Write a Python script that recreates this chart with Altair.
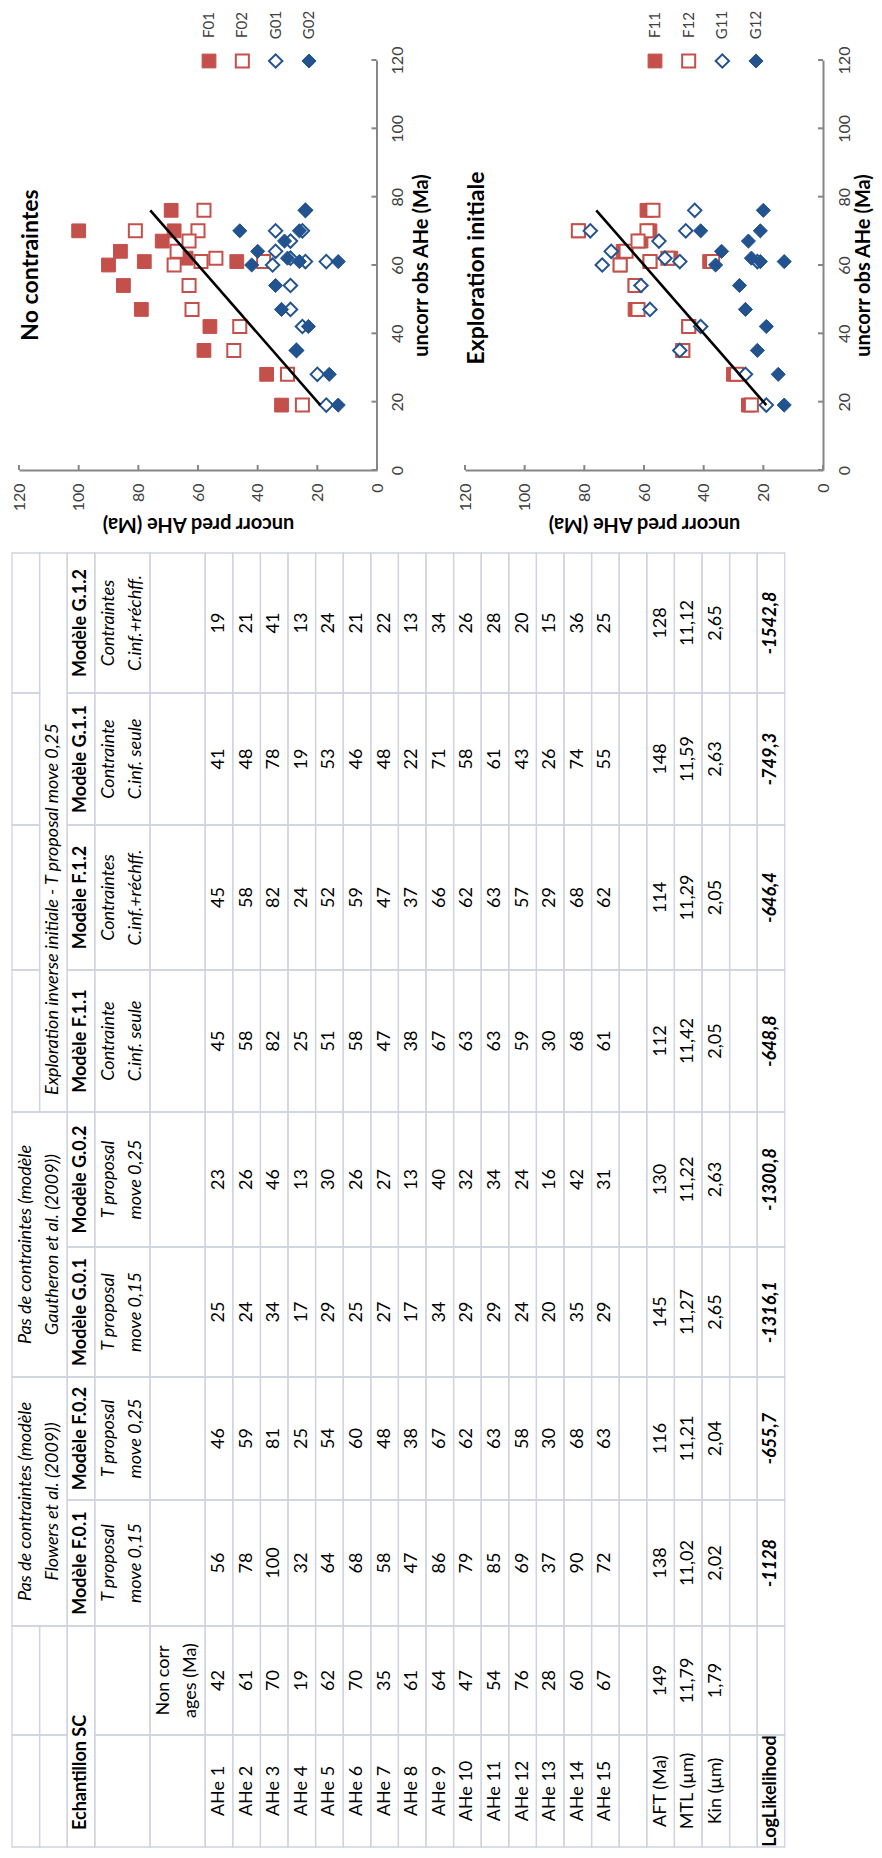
import altair as alt
import pandas as pd

FONT = "Lato"
RED = "#C4504C"
BLUE = "#22538F"
AXIS_GREY = "#868686"
GRID = "#D0D3E0"

# ---------------- data ----------------
samples = [f"AHe {i}" for i in range(1, 16)]
obs_ages = [42, 61, 70, 19, 62, 70, 35, 61, 64, 47, 54, 76, 28, 60, 67]
pred_F01 = [56, 78, 100, 32, 64, 68, 58, 47, 86, 79, 85, 69, 37, 90, 72]
pred_F02 = [46, 59, 81, 25, 54, 60, 48, 38, 67, 62, 63, 58, 30, 68, 63]
pred_G01 = [25, 24, 34, 17, 29, 25, 27, 17, 34, 29, 29, 24, 20, 35, 29]
pred_G02 = [23, 26, 46, 13, 30, 26, 27, 13, 40, 32, 34, 24, 16, 42, 31]
pred_F11 = [45, 58, 82, 25, 51, 58, 47, 38, 67, 63, 63, 59, 30, 68, 61]
pred_F12 = [45, 58, 82, 24, 52, 59, 47, 37, 66, 62, 63, 57, 29, 68, 62]
pred_G11 = [41, 48, 78, 19, 53, 46, 48, 22, 71, 58, 61, 43, 26, 74, 55]
pred_G12 = [19, 21, 41, 13, 24, 21, 22, 13, 34, 26, 28, 20, 15, 36, 25]
pred_cols = [pred_F01, pred_F02, pred_G01, pred_G02, pred_F11, pred_F12, pred_G11, pred_G12]

model_names = ["Modèle F.0.1", "Modèle F.0.2", "Modèle G.0.1", "Modèle G.0.2",
               "Modèle F.1.1", "Modèle F.1.2", "Modèle G.1.1", "Modèle G.1.2"]
model_line1 = ["T proposal", "T proposal", "T proposal", "T proposal",
               "Contrainte", "Contraintes", "Contrainte", "Contraintes"]
model_line2 = ["move 0,15", "move 0,25", "move 0,15", "move 0,25",
               "C.inf. seule", "C.inf.+réchff.", "C.inf. seule", "C.inf.+réchff."]
group_headers = [("Pas de contraintes (modèle", "Flowers et al. (2009))"),
                 ("Pas de contraintes (modèle", "Gautheron et al. (2009))")]
explo_header = "Exploration inverse initiale - T proposal move 0,25"
extra_rows = ["AFT (Ma)", "MTL (µm)", "Kin (µm)"]
aft_values = ["149", "138", "116", "145", "130", "112", "114", "148", "128"]
mtl_values = ["11,79", "11,02", "11,21", "11,27", "11,22", "11,42", "11,29", "11,59", "11,12"]
kin_values = ["1,79", "2,02", "2,04", "2,65", "2,63", "2,05", "2,05", "2,63", "2,65"]
loglik_values = ["-1128", "-655,7", "-1316,1", "-1300,8", "-648,8", "-646,4", "-749,3", "-1542,8"]

col_widths = [112, 109, 126, 123, 130, 135, 142, 145, 132, 140]
row_heights = [1, 1, 1, 2, 2] + [1] * 21

axis_ticks = [0, 20, 40, 60, 80, 100, 120]
panel1_series = ["F01", "F02", "G01", "G02"]
panel2_series = ["F11", "F12", "G11", "G12"]
series_kinds = ["sq_fill", "sq_open", "dia_open", "dia_fill"]
chart_titles = ["No contraintes", "Exploration initiale"]

# ---------------- canvas ----------------
W, H = 866, 1842

# ---------------- table ----------------
col_edges = [0]
for w in col_widths:
    col_edges.append(col_edges[-1] + w)
row_edges = [0]
for h in row_heights:
    row_edges.append(row_edges[-1] + h)


def rc(r):
    return (row_edges[r] + row_edges[r + 1]) / 2


def cc(c):
    return (col_edges[c] + col_edges[c + 1]) / 2


rects = []


def add_rect(r0, r1, c0, c1):
    rects.append(dict(x0=row_edges[r0], x1=row_edges[r1 + 1],
                      y0=col_edges[c0], y1=col_edges[c1 + 1]))


for c in (0, 1):
    add_rect(0, 0, c, c)
    add_rect(1, 1, c, c)
add_rect(0, 1, 2, 3)
add_rect(0, 1, 4, 5)
for c in range(6, 10):
    add_rect(0, 0, c, c)
add_rect(1, 1, 6, 9)
add_rect(2, 2, 0, 1)
for c in range(2, 10):
    add_rect(2, 2, c, c)
for r in range(3, len(row_heights)):
    for c in range(10):
        add_rect(r, r, c, c)

texts = []


def add_text(x, y, t, style):
    texts.append(dict(x=x, y=y, t=t, style=style))


for g, (l1, l2) in enumerate(group_headers):
    c0 = 2 + 2 * g
    yc = (col_edges[c0] + col_edges[c0 + 2]) / 2
    add_text(rc(0), yc, l1, "ital")
    add_text(rc(1), yc, l2, "ital")
add_text(rc(1), col_edges[6] + 17, explo_header, "ital_left")
add_text(rc(2), col_edges[0] + 17, "Echantillon SC", "bold_left")
for i, m in enumerate(model_names):
    add_text(rc(2), cc(i + 2), m, "bold")
    add_text(row_edges[3] + 0.5, cc(i + 2), model_line1[i], "ital")
    add_text(row_edges[3] + 1.5, cc(i + 2), model_line2[i], "ital")
add_text(row_edges[4] + 0.5, cc(1), "Non corr", "reg")
add_text(row_edges[4] + 1.5, cc(1), "ages (Ma)", "reg")
for k, s in enumerate(samples):
    r = 5 + k
    add_text(rc(r), cc(0), s, "reg")
    add_text(rc(r), cc(1), str(obs_ages[k]), "reg")
    for i, col in enumerate(pred_cols):
        add_text(rc(r), cc(i + 2), str(col[k]), "reg")
for j, (name, vals) in enumerate(zip(extra_rows, [aft_values, mtl_values, kin_values])):
    r = 21 + j
    add_text(rc(r), cc(0), name, "reg")
    for c, v in enumerate(vals):
        add_text(rc(r), cc(c + 1), v, "reg")
add_text(rc(25), cc(0), "LogLikelihood", "bold")
for i, v in enumerate(loglik_values):
    add_text(rc(25), cc(i + 2), v, "boldital")

rect_df = pd.DataFrame(rects)
text_df = pd.DataFrame(texts)

tx = alt.Scale(domain=[0, row_edges[-1]], range=[4, 776.8], nice=False, zero=False)
ty = alt.Scale(domain=[0, col_edges[-1]], range=[1839, 545], nice=False, zero=False)

rect_layer = alt.Chart(rect_df).mark_rect(
    fillOpacity=0, stroke=GRID, strokeWidth=1.3
).encode(
    x=alt.X("x0:Q", scale=tx, axis=None), x2="x1:Q",
    y=alt.Y("y0:Q", scale=ty, axis=None), y2="y1:Q",
)

text_styles = {
    "reg": dict(),
    "bold": dict(fontWeight="bold"),
    "ital": dict(fontStyle="italic"),
    "boldital": dict(fontWeight="bold", fontStyle="italic"),
    "bold_left": dict(fontWeight="bold", align="left"),
    "ital_left": dict(fontStyle="italic", align="left"),
}
text_layers = []
for style, kw in text_styles.items():
    props = dict(angle=270, font=FONT, fontSize=18, color="black",
                 align="center", baseline="middle")
    props.update(kw)
    text_layers.append(
        alt.Chart(text_df).transform_filter(alt.datum.style == style)
        .mark_text(**props)
        .encode(x=alt.X("x:Q", scale=tx, axis=None),
                y=alt.Y("y:Q", scale=ty, axis=None),
                text="t:N")
    )
table = alt.layer(rect_layer, *text_layers)

# ---------------- scatter panels ----------------
OBS_RANGE = [462, 52]
AXIS_Y = 462
LABEL_SIZE = 16
TITLE_SIZE = 20

marker_styles = {
    "sq_fill": dict(shape="square", fill=RED, stroke=RED, strokeWidth=1, size=190),
    "sq_open": dict(shape="square", fill="white", stroke=RED, strokeWidth=2, size=170),
    "dia_open": dict(shape="diamond", fill="white", stroke=BLUE, strokeWidth=2, size=180),
    "dia_fill": dict(shape="diamond", fill=BLUE, stroke=BLUE, strokeWidth=1, size=200),
}


def make_panel(names, preds, pred_range, obs_axis_x, obs_title_dx):
    pred_scale = alt.Scale(domain=[0, 120], range=pred_range, nice=False, zero=False)
    obs_scale = alt.Scale(domain=[0, 120], range=OBS_RANGE, nice=False, zero=False)
    x_axis = alt.Axis(
        orient="bottom", offset=AXIS_Y - H, values=axis_ticks, grid=False,
        ticks=False, tickSize=0, domainColor=AXIS_GREY, domainWidth=2,
        labelAngle=270, labelAlign="right", labelBaseline="middle", labelPadding=13,
        labelFont=FONT, labelFontSize=LABEL_SIZE, labelColor="#404040",
        labelFlush=False, labelOverlap=False,
        title="uncorr pred AHe (Ma)", titleAngle=180,
        titleX=(pred_range[0] + pred_range[1]) / 2, titleY=53,
        titleAlign="center", titleBaseline="middle", titleFont=FONT,
        titleFontSize=TITLE_SIZE, titleFontWeight="bold", titleColor="black",
    )
    y_axis = alt.Axis(
        orient="right", offset=obs_axis_x - W, values=axis_ticks, grid=False,
        ticks=False, tickSize=0, domainColor=AXIS_GREY, domainWidth=2,
        labelAngle=270, labelAlign="center", labelBaseline="middle", labelPadding=21,
        labelFont=FONT, labelFontSize=LABEL_SIZE, labelColor="#404040",
        labelFlush=False, labelOverlap=False,
        title="uncorr obs AHe (Ma)", titleAngle=270,
        titleX=obs_title_dx, titleY=(OBS_RANGE[0] + OBS_RANGE[1]) / 2,
        titleAlign="center", titleBaseline="middle", titleFont=FONT,
        titleFontSize=TITLE_SIZE, titleFontWeight="bold", titleColor="black",
    )

    def X(f):
        return alt.X(f"{f}:Q", scale=pred_scale, axis=x_axis)

    def Y(f):
        return alt.Y(f"{f}:Q", scale=obs_scale, axis=y_axis)

    layers = []
    for name, p, kind in zip(names, preds, series_kinds):
        df = pd.DataFrame({"obs": obs_ages, "pred": p, "series": name})
        layers.append(
            alt.Chart(df).mark_point(filled=True, opacity=1, **marker_styles[kind])
            .encode(x=X("pred"), y=Y("obs"))
        )
    lo, hi = min(obs_ages), max(obs_ages)
    line_df = pd.DataFrame({"obs": [lo, hi], "pred": [lo, hi]})
    layers.append(
        alt.Chart(line_df).mark_line(color="black", strokeWidth=2.6)
        .encode(x=X("pred"), y=Y("obs"))
    )
    tick_df = pd.DataFrame({"v": axis_ticks})
    layers.append(
        alt.Chart(tick_df).mark_rule(color=AXIS_GREY, strokeWidth=2)
        .encode(x=X("v"), y=alt.value(AXIS_Y), y2=alt.value(AXIS_Y - 5))
    )
    layers.append(
        alt.Chart(tick_df).mark_rule(color=AXIS_GREY, strokeWidth=2)
        .encode(y=Y("v"), x=alt.value(obs_axis_x - 5), x2=alt.value(obs_axis_x))
    )
    return alt.layer(*layers)


panel1 = make_panel(panel1_series, pred_cols[:4], [369, 11], 368.5, 45)
panel2 = make_panel(panel2_series, pred_cols[4:], [815, 457], 815, 40)


def make_legend(names, x_range):
    df = pd.DataFrame({"name": names, "kind": series_kinds})
    lx = alt.X("name:N", scale=alt.Scale(type="point", domain=names, range=x_range, padding=0),
               axis=None)
    layers = []
    for kind in series_kinds:
        layers.append(
            alt.Chart(df).transform_filter(alt.datum.kind == kind)
            .mark_point(filled=True, opacity=1, **marker_styles[kind])
            .encode(x=lx, y=alt.value(53))
        )
    layers.append(
        alt.Chart(df).mark_text(angle=270, font=FONT, fontSize=15, color="#404040",
                                align="center", baseline="middle")
        .encode(x=lx, y=alt.value(17), text="name:N")
    )
    return alt.layer(*layers)


legend1 = make_legend(panel1_series, [201, 301])
legend2 = make_legend(panel2_series, [647, 748])

titles_df = pd.DataFrame({"t": chart_titles})


def make_title(name, px, py):
    return alt.Chart(titles_df).transform_filter(alt.datum.t == name).mark_text(
        angle=270, font=FONT, fontSize=23, fontWeight="bold", color="black",
        align="center", baseline="middle"
    ).encode(text="t:N", x=alt.value(px), y=alt.value(py))


title1 = make_title(chart_titles[0], 23, 257)
title2 = make_title(chart_titles[1], 469, 260)

chart = alt.layer(
    table, panel1, panel2, legend1, legend2, title1, title2
).resolve_scale(
    x="independent", y="independent"
).properties(
    width=W, height=H, padding=0,
    autosize=alt.AutoSizeParams(type="none"),
).configure_view(stroke=None)

chart.save("out.html", embed_options={"renderer": "svg", "actions": False})
